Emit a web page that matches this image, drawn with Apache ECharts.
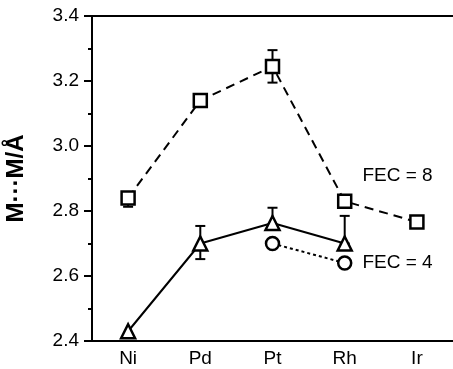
<!DOCTYPE html>
<html>
<head>
<meta charset="utf-8">
<script src="https://cdn.jsdelivr.net/npm/echarts@6/dist/echarts.min.js"></script>
<style>
  html, body { margin: 0; padding: 0; background: #fff; }
  #chart { width: 453px; height: 369px; }
</style>
</head>
<body>
<div id="chart"></div>
<script>
// metals on the x axis
var metals = ['Ni', 'Pd', 'Pt', 'Rh', 'Ir'];
var yTicks = [2.4, 2.6, 2.8, 3.0, 3.2, 3.4];

// FEC = 8 (squares, dashed)
var fec8 = [2.84, 3.14, 3.245, 2.83, 2.766];
var fec8Low = [2.813, null, 3.195, null, null];
var fec8High = [2.84, null, 3.295, null, null];

// FEC = 4 (triangles, solid)
var fec4 = [2.43, 2.70, 2.763, 2.70, null];
var fec4Low = [null, 2.652, 2.745, 2.70, null];
var fec4High = [null, 2.754, 2.81, 2.785, null];

// FEC = 4 second set (circles, dotted)
var fec4b = [null, null, 2.70, 2.64, null];

var font = 'Liberation Sans';

function errData(low, high) {
  var out = [];
  for (var i = 0; i < metals.length; i++) {
    if (low[i] != null && high[i] != null) out.push([i, low[i], high[i]]);
  }
  return out;
}

function errorBar(params, api) {
  var lo = api.coord([api.value(0), api.value(1)]);
  var hi = api.coord([api.value(0), api.value(2)]);
  var w = 5;
  var st = { stroke: '#000', lineWidth: 2 };
  return {
    type: 'group',
    children: [
      { type: 'line', shape: { x1: lo[0], y1: lo[1], x2: hi[0], y2: hi[1] }, style: st },
      { type: 'line', shape: { x1: lo[0] - w, y1: lo[1], x2: lo[0] + w, y2: lo[1] }, style: st },
      { type: 'line', shape: { x1: hi[0] - w, y1: hi[1], x2: hi[0] + w, y2: hi[1] }, style: st }
    ]
  };
}

var labelStyle = { color: '#000', fontFamily: font, fontSize: 19 };

var chart = echarts.init(document.getElementById('chart'));
var option = {
  animation: false,
  grid: { left: 92, right: 0, top: 16, bottom: 28, outerBoundsMode: 'none', containLabel: false },
  xAxis: [{
    type: 'category',
    data: metals,
    boundaryGap: true,
    axisLine: { lineStyle: { color: '#000', width: 2 } },
    axisTick: { alignWithLabel: true, length: 5, lineStyle: { color: '#000', width: 2 } },
    axisLabel: { color: '#000', fontFamily: font, fontSize: 19, margin: 8 },
    splitLine: { show: false }
  }, {
    type: 'category',
    data: metals,
    position: 'top',
    axisLine: { lineStyle: { color: '#000', width: 2 } },
    axisTick: { show: false },
    axisLabel: { show: false }
  }],
  yAxis: {
    type: 'value',
    min: 2.4,
    max: 3.4,
    interval: 0.2,
    name: 'M\u00b7\u00b7\u00b7M/\u00c5',
    nameLocation: 'middle',
    nameRotate: 90,
    nameGap: 64,
    nameTextStyle: { color: '#000', fontFamily: font, fontSize: 24, fontWeight: 'bold' },
    axisLine: { show: true, lineStyle: { color: '#000', width: 2 } },
    axisTick: { show: true, length: 8, lineStyle: { color: '#000', width: 2 } },
    minorTick: { show: true, splitNumber: 2, length: 4, lineStyle: { color: '#000', width: 2 } },
    axisLabel: {
      color: '#000', fontFamily: font, fontSize: 19, margin: 13,
      formatter: function (v) { return v.toFixed(1); }
    },
    splitLine: { show: false }
  },
  series: [
    {
      type: 'custom',
      renderItem: errorBar,
      data: errData(fec8Low, fec8High),
      z: 1
    },
    {
      type: 'custom',
      renderItem: errorBar,
      data: errData(fec4Low, fec4High),
      z: 1
    },
    {
      name: 'FEC = 8',
      type: 'line',
      data: fec8.map(function (v, i) {
        if (i === 3) {
          return {
            value: v,
            label: Object.assign({
              show: true, position: 'right', distance: 10, offset: [0, -25],
              formatter: 'FEC = 8'
            }, labelStyle)
          };
        }
        return v;
      }),
      symbol: 'rect',
      symbolSize: 13,
      lineStyle: { color: '#000', width: 2, type: [9, 6] },
      itemStyle: { color: '#fff', borderColor: '#000', borderWidth: 2.5 },
      z: 3
    },
    {
      name: 'FEC = 4',
      type: 'line',
      data: fec4,
      symbol: 'triangle',
      symbolSize: 14,
      lineStyle: { color: '#000', width: 2, type: 'solid' },
      itemStyle: { color: '#fff', borderColor: '#000', borderWidth: 2.5 },
      z: 3
    },
    {
      name: 'FEC = 4 b',
      type: 'line',
      data: fec4b.map(function (v, i) {
        if (i === 3) {
          return {
            value: v,
            label: Object.assign({
              show: true, position: 'right', distance: 10,
              formatter: 'FEC = 4'
            }, labelStyle)
          };
        }
        return v;
      }),
      symbol: 'circle',
      symbolSize: 13,
      lineStyle: { color: '#000', width: 2, type: [3, 3] },
      itemStyle: { color: '#fff', borderColor: '#000', borderWidth: 2.5 },
      z: 4
    }
  ]
};
chart.setOption(option);
</script>
</body>
</html>
